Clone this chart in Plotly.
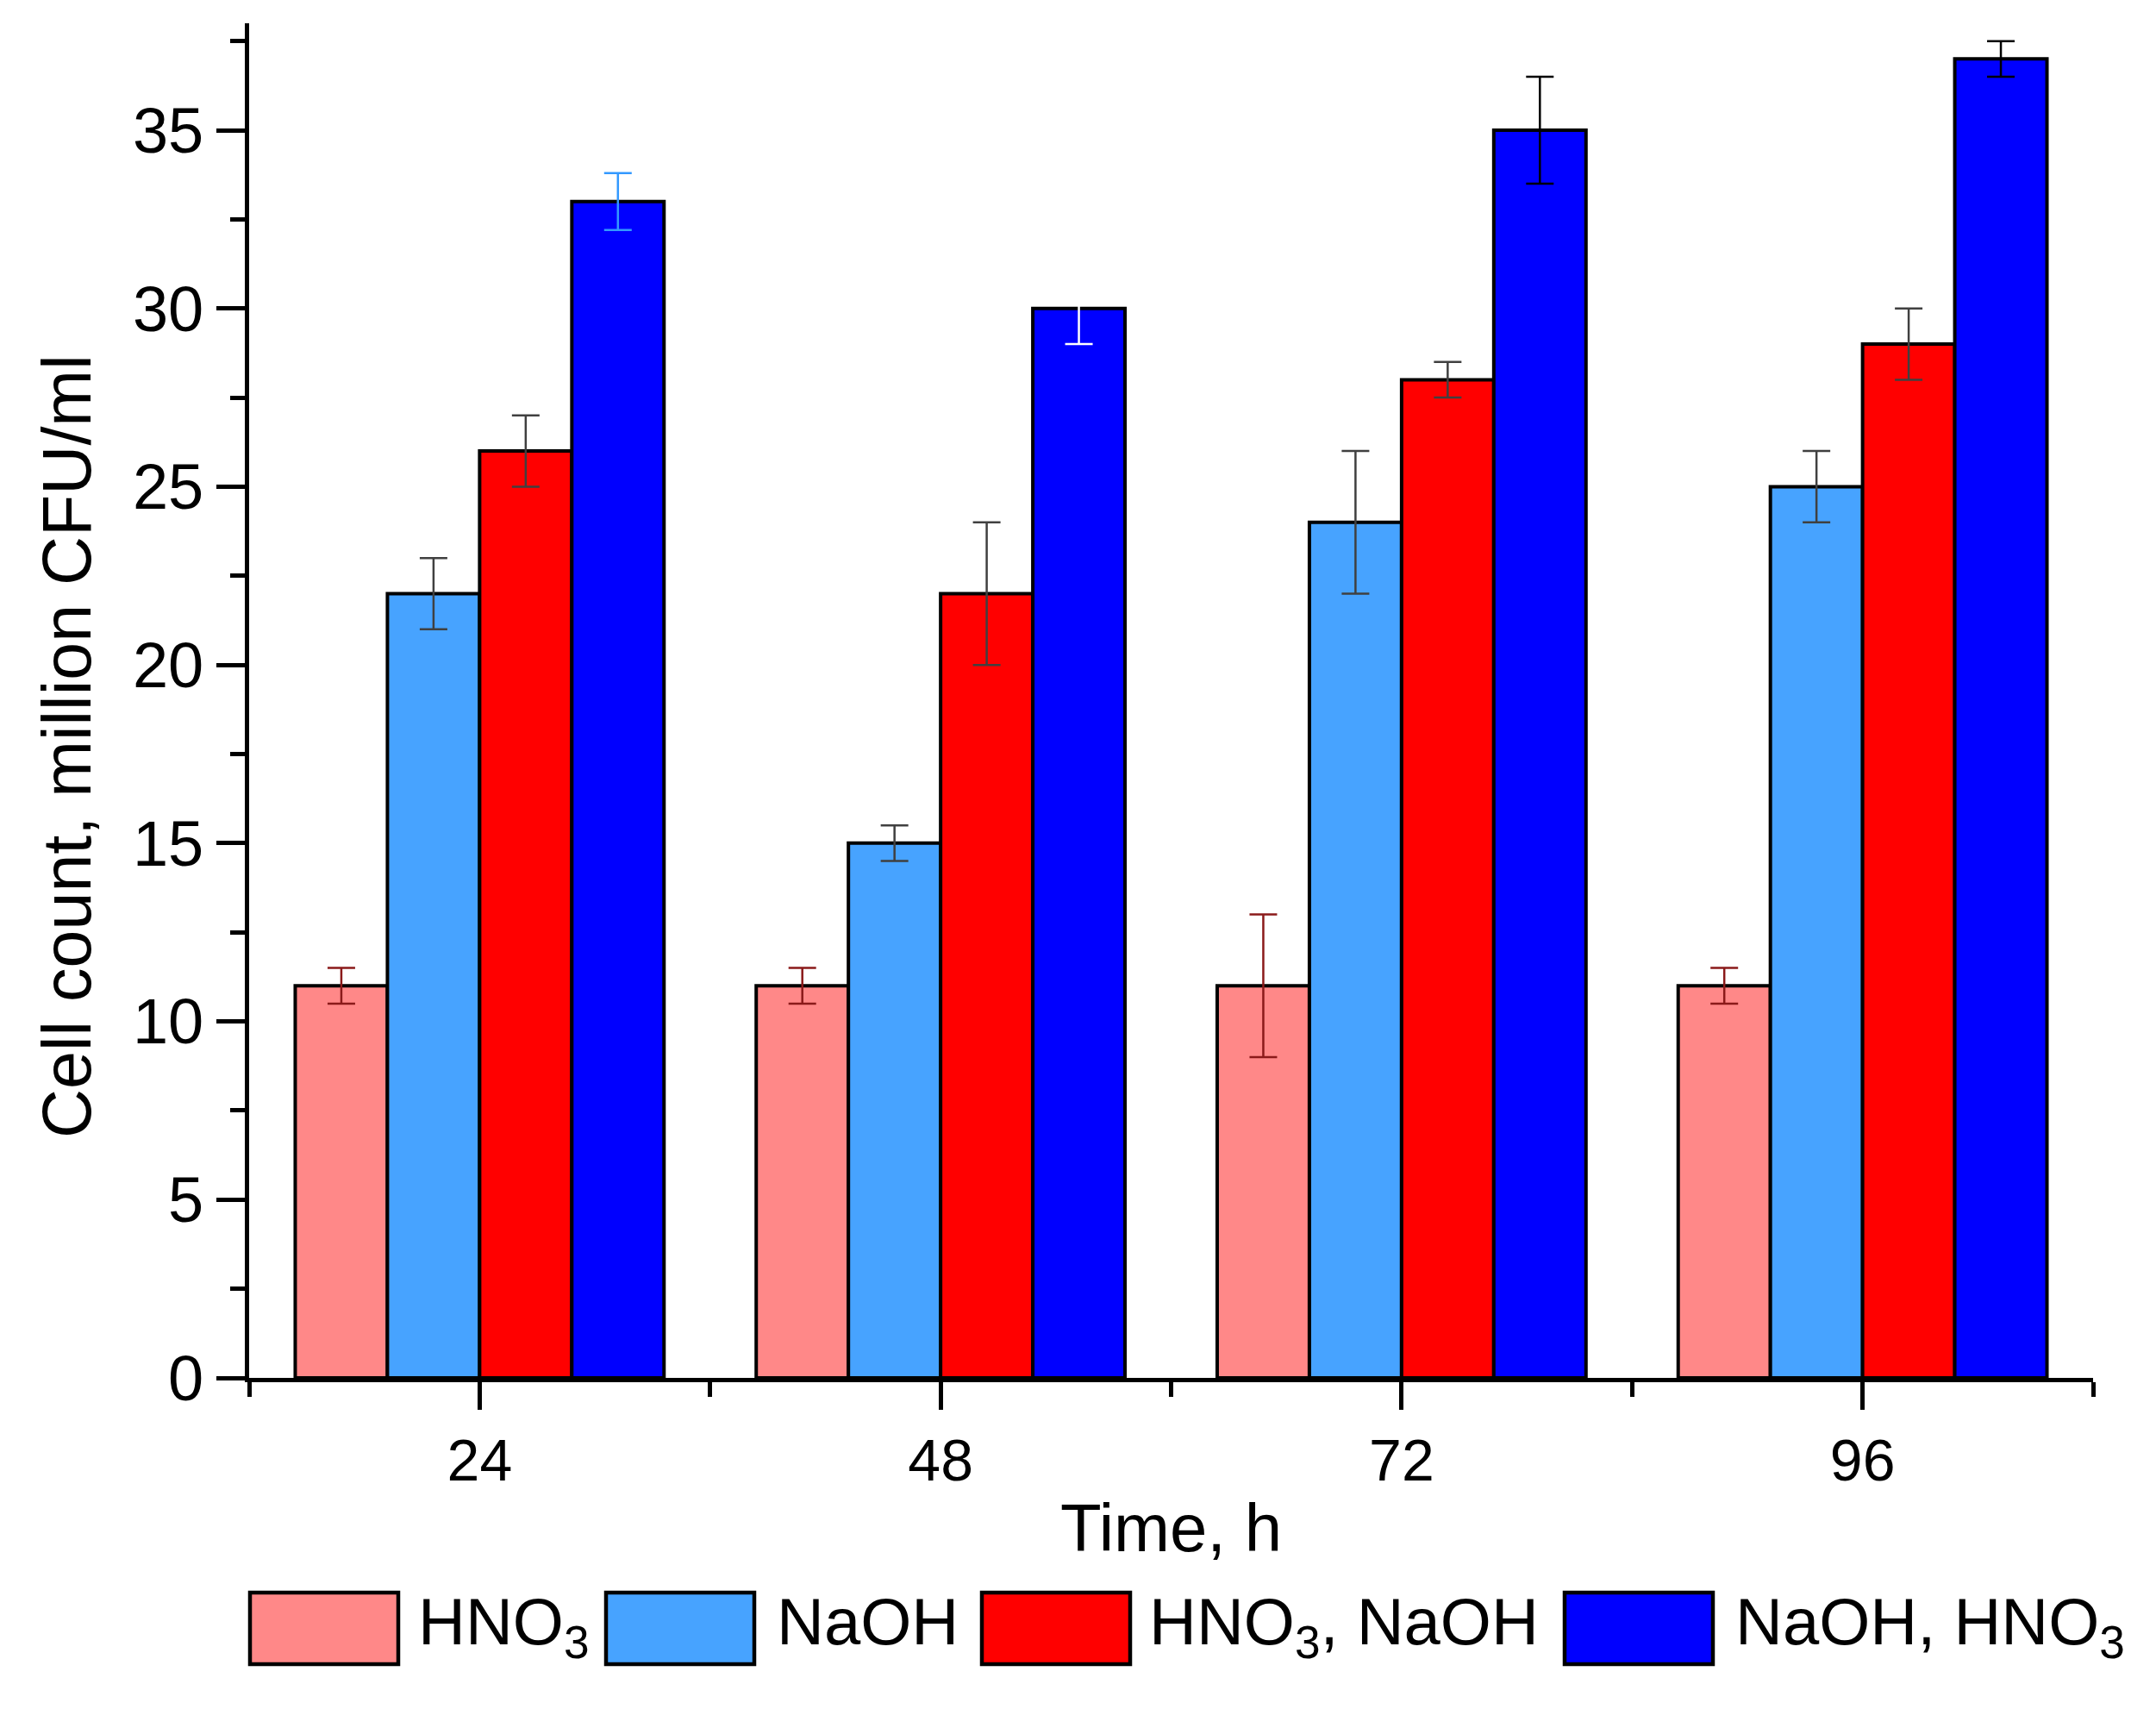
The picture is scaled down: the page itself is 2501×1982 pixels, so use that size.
import plotly.graph_objects as go

# ---------------- data ----------------
times = [24, 48, 72, 96]
series_names = ["HNO<sub>3</sub>", "NaOH", "HNO<sub>3</sub>, NaOH", "NaOH, HNO<sub>3</sub>"]

hno3 = [11, 11, 11, 11]
hno3_err = [0.5, 0.5, 2, 0.5]
naoh = [22, 15, 24, 25]
naoh_err = [1, 0.5, 2, 1]
hno3_naoh = [26, 22, 28, 29]
hno3_naoh_err = [1, 2, 0.5, 1]
naoh_hno3 = [33, 30, 35, 37]
naoh_hno3_err = [0.8, 1, 1.5, 0.5]

y_ticks = [0, 5, 10, 15, 20, 25, 30, 35]

# ---------------- styles ----------------
fill_colors = ["#FF8888", "#47A3FF", "#FF0000", "#0000FF"]
err_colors = [
    ["#8B1A1A"] * 4,
    ["#404040"] * 4,
    ["#404040"] * 4,
    ["#3399FF", "#FFFFFF", "#000000", "#000000"],
]
values = [hno3, naoh, hno3_naoh, naoh_hno3]
errors = [hno3_err, naoh_err, hno3_naoh_err, naoh_hno3_err]

W, H = 2501, 1982
L, R, T, B = 289, 73, 27, 384
PW = W - L - R
PH = H - T - B
FONT = "Liberation Sans, Arial, sans-serif"

bar_w = 4.8
offsets = [-2 * bar_w, -bar_w, 0, bar_w]

fig = go.Figure()

# bars
for i in range(4):
    fig.add_trace(go.Bar(
        x=times, y=values[i], name=series_names[i],
        offset=offsets[i], width=bar_w,
        marker=dict(color=fill_colors[i], line=dict(color="black", width=4)),
        showlegend=False,
    ))

# error bars (per-point colours)
for i in range(4):
    for j in range(len(times)):
        fig.add_trace(go.Bar(
            x=[times[j]], y=[values[i][j]],
            offset=offsets[i], width=bar_w,
            marker=dict(color="rgba(0,0,0,0)", line=dict(width=0)),
            error_y=dict(type="data", array=[errors[i][j]], visible=True,
                         color=err_colors[i][j], thickness=2.5, width=16),
            showlegend=False, hoverinfo="skip",
        ))

fig.update_layout(
    barmode="overlay",
    width=W, height=H, autosize=False,
    margin=dict(l=L, r=R, t=T, b=B),
    paper_bgcolor="white", plot_bgcolor="white",
    font=dict(family=FONT, color="black", size=66),
    showlegend=False,
)

fig.update_xaxes(
    range=[12, 108], tickvals=times, ticktext=[str(t) for t in times],
    showline=True, linecolor="black", linewidth=5,
    ticks="outside", ticklen=32, tickwidth=5, tickcolor="black",
    minor=dict(tick0=12, dtick=24, ticks="outside", ticklen=17, tickwidth=5, tickcolor="black"),
    showgrid=False, zeroline=False,
    tickfont=dict(size=68),
    title=dict(text="Time, h", font=dict(size=78), standoff=16),
)
fig.update_yaxes(
    range=[0, 38], tickvals=y_ticks,
    showline=True, linecolor="black", linewidth=5,
    ticks="outside", ticklen=33, tickwidth=5, tickcolor="black",
    minor=dict(dtick=2.5, ticks="outside", ticklen=17, tickwidth=5, tickcolor="black"),
    showgrid=False, zeroline=False,
    tickfont=dict(size=74),
)

def px_x(px):
    return (px - L) / PW

def px_y(py):
    return (H - B - py) / PH

# y axis title as annotation
fig.add_annotation(
    text="Cell count, million CFU/ml", textangle=-90,
    xref="paper", yref="paper", x=px_x(77), y=px_y(866),
    xanchor="center", yanchor="middle", showarrow=False,
    font=dict(size=79, family=FONT, color="black"),
)

# legend drawn manually (large swatches)
box_left = [290, 703, 1139, 1815]
box_width = 172
box_top, box_bottom = 1847, 1930
text_left = [483, 899, 1331, 2011]
text_top = 1836
for i in range(4):
    fig.add_shape(
        type="rect", xref="paper", yref="paper",
        x0=px_x(box_left[i]), x1=px_x(box_left[i] + box_width),
        y0=px_y(box_bottom), y1=px_y(box_top),
        fillcolor=fill_colors[i], line=dict(color="black", width=4.5),
    )
    fig.add_annotation(
        text=series_names[i], xref="paper", yref="paper",
        x=px_x(text_left[i]), y=px_y(text_top),
        xanchor="left", yanchor="top", showarrow=False,
        font=dict(size=76, family=FONT, color="black"),
    )

fig.write_html("out.html")
